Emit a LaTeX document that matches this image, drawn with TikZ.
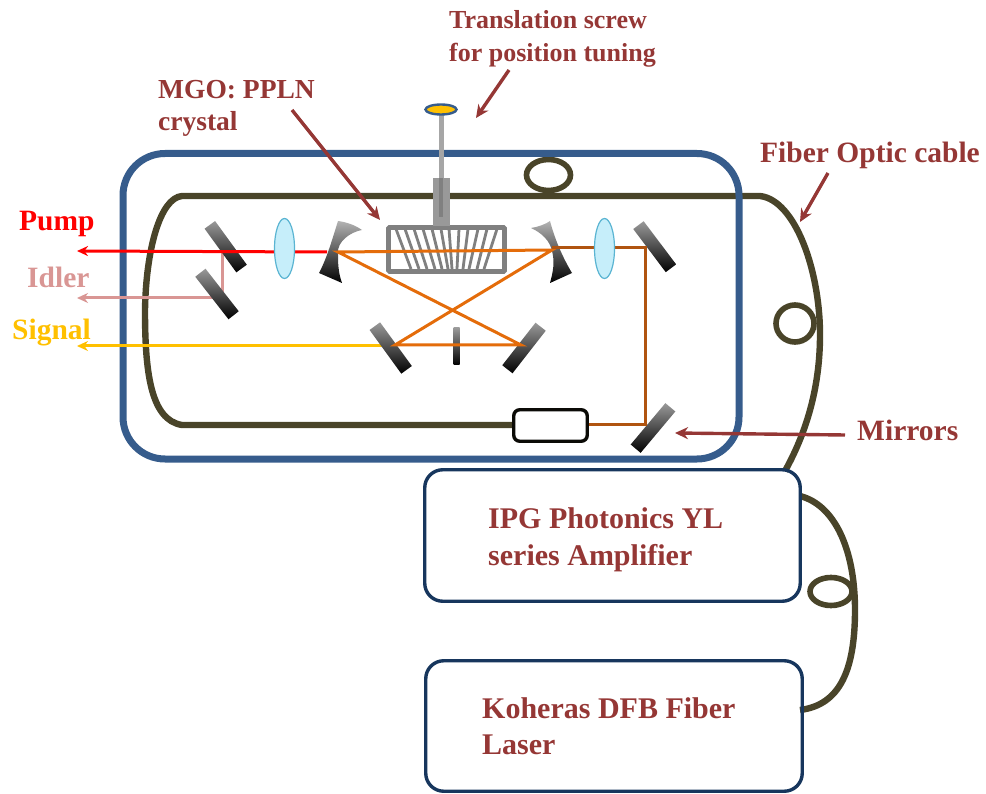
\documentclass[tikz,border=0pt]{standalone}
\usepackage{fontspec}
\setmainfont{Liberation Serif}
\usepackage{tikz}
\usetikzlibrary{arrows.meta, shapes.geometric}
\definecolor{labelred}{RGB}{149,55,53}
\definecolor{casingblue}{RGB}{54,92,140}
\definecolor{boxblue}{RGB}{23,54,93}
\definecolor{fiberolive}{RGB}{73,68,41}
\definecolor{beamorange}{RGB}{228,108,10}
\definecolor{beambrown}{RGB}{176,84,16}
\definecolor{idlerpink}{RGB}{217,150,148}
\definecolor{signalgold}{RGB}{255,192,0}
\definecolor{lensblue}{RGB}{198,238,250}
\definecolor{lensedge}{RGB}{90,180,210}
\newcommand{\lblfont}[2]{\bfseries\fontsize{#1}{#2}\selectfont}
\tikzset{
    fiber/.style={draw=fiberolive, line width=6.4pt},
    fiberloop/.style={draw=fiberolive, line width=5.6pt},
    lbl/.style={text=labelred, anchor=base west, inner sep=0pt, align=left},
    beamlbl/.style={anchor=base west, inner sep=0pt, font=\lblfont{29.5pt}{32pt}},
    callout/.style={draw=labelred, line width=3.4pt, -{Stealth[length=13pt,width=12pt]}},
    unitbox/.style={draw=boxblue, line width=3.4pt, rounded corners=18pt},
    beam/.style={line width=3pt},
    beamtip/.style={-{Stealth[length=11pt,width=10pt]}},
    mirror/.style={rectangle, minimum width=13pt, minimum height=54pt, inner sep=0pt, top color=black!40, bottom color=black},
    lens/.style={ellipse, draw=lensedge, fill=lensblue, line width=1.2pt, minimum width=20pt, minimum height=60pt, inner sep=0pt}
}
\begin{document}
\begin{tikzpicture}[x=1pt, y=-1pt]
    \useasboundingbox (0,0) rectangle (986,794);

    % Fiber loop through the casing
    \draw[fiber] (512,425) -- (182,425) .. controls (150,420) and (145,370) .. (145,310)
        .. controls (146,250) and (160,198) .. (182,196) -- (760,196)
        .. controls (795,200) and (820,270) .. (820,335) .. controls (820,390) and (805,435) .. (785,471);
    \draw[fiberloop] (548.5,175) circle[x radius=22pt, y radius=15.5pt];
    \draw[fiberloop] (795,323.5) circle[x radius=19pt, y radius=18.5pt];

    % Amplifier to laser fiber
    \draw[fiber] (800,496) .. controls (835,505) and (855,550) .. (855,610)
        .. controls (855,670) and (840,705) .. (800,710);
    \draw[fiberloop] (831,591.5) circle[x radius=21pt, y radius=14pt];

    % Casing
    \draw[draw=casingblue, line width=7pt, rounded corners=42pt] (123,153.5) rectangle (739,459);

    % Units
    \node[unitbox, minimum width=375.5pt, minimum height=131.5pt] (amp) at (612.5,535.5) {};
    \node[unitbox, minimum width=376.5pt, minimum height=130.5pt] (laser) at (614,726) {};

    % Crystal
    \draw[draw=black!50, line width=4.6pt, rounded corners=1pt] (388.5,227.5) rectangle (504.5,271.5);
    \foreach \a/\b in {396/411,405/419,414/427,423/435,432/442,441/448,449/452,459/457,468/463,478/469,487/477,497/484} {
        \draw[draw=black!50, line width=2.8pt] (\a,229) -- (\b,269);
    }

    % Translation screw
    \draw[draw=black!35, line width=5pt] (441,112) -- (441,178);
    \fill[black!40] (433,178) rectangle (450,226);
    \draw[draw=black!50, line width=4pt] (441,178) -- (441,217);
    \node[ellipse, draw=casingblue, fill=signalgold, line width=2.4pt, minimum width=31pt, minimum height=10pt, inner sep=0pt] (knob) at (441,109.5) {};

    % Fiber coupler
    \node[draw=black!85!fiberolive, fill=white, line width=3.4pt, rounded corners=6pt, minimum width=73.5pt, minimum height=31.5pt, inner sep=0pt] (coupler) at (550.5,425.5) {};

    % Beams behind the mirrors
    \draw[beam, draw=idlerpink, beamtip] (222,252) -- (222,298) -- (77,298);
    \draw[beam, draw=signalgold, beamtip] (384,346) -- (77,346);

    % Mirrors
    \node[mirror, rotate=36] (m1) at (225.7,246.7) {};
    \node[mirror, rotate=38] (m2) at (217,294) {};
    \node[mirror, rotate=36] (m3) at (390.7,348) {};
    \node[mirror, rotate=-38] (m4) at (524,348) {};
    \node[mirror, rotate=37] (m5) at (654.7,246.7) {};
    \node[mirror, rotate=-40] (m6) at (653,428) {};
    \node[rectangle, minimum width=6pt, minimum height=37pt, inner sep=0pt, top color=black!40, bottom color=black] (slit) at (456.5,346.5) {};

    % Curved mirrors
    \shade[top color=black!30, bottom color=black] (338,221) .. controls (346,222) and (355,225) .. (362,230)
        .. controls (350,232) and (337,242) .. (338,253) .. controls (338,262) and (338,272) .. (342,283)
        -- (319,273) .. controls (327,258) and (332,240) .. (338,221) -- cycle;
    \shade[top color=black!30, bottom color=black] (531,228) .. controls (538,227) and (546,224) .. (550,221)
        .. controls (555,240) and (563,258) .. (572,273) -- (550,283) .. controls (553,272) and (555,262) .. (552,251)
        .. controls (550,241) and (542,233) .. (531,228) -- cycle;

    % Beams in front of the mirrors
    \draw[beam, draw=red, beamtip] (327,252) -- (77,251);
    \draw[beam, draw=beamorange] (338,252) -- (552,250) -- (395,345) -- (521,345) -- cycle;
    \draw[beam, draw=beambrown] (552,248) -- (645,248) -- (645,425) -- (589,425);

    % Lenses
    \node[lens] (l1) at (284.5,248.5) {};
    \node[lens] (l2) at (604.5,248.5) {};

    % Labels
    \node[lbl, font=\lblfont{26pt}{33pt}] (screwtext) at (449,62) {Translation screw\\for position tuning};
    \node[lbl, font=\lblfont{27.5pt}{32pt}] (crystaltext) at (158,131) {MGO: PPLN\\crystal};
    \node[lbl, font=\lblfont{29.5pt}{32pt}] (cabletext) at (760,163) {Fiber Optic cable};
    \node[lbl, font=\lblfont{29.5pt}{32pt}] (mirrortext) at (857,440) {Mirrors};
    \node[lbl, font=\lblfont{30pt}{37pt}] (amptext) at (488,565) {IPG Photonics YL\\series Amplifier};
    \node[lbl, font=\lblfont{30pt}{36pt}] (lasertext) at (482,754) {Koheras DFB Fiber\\Laser};
    \node[beamlbl, text=red] (pumptext) at (19,231) {Pump};
    \node[beamlbl, text=idlerpink] (idlertext) at (27,288) {Idler};
    \node[beamlbl, text=signalgold] (signaltext) at (12,340) {Signal};

    % Callouts
    \coordinate (screwtip) at (476,118);
    \coordinate (screwtail) at (509,70);
    \coordinate (crystaltip) at (380,220);
    \coordinate (crystaltail) at (292,110);
    \coordinate (cabletip) at (800,222);
    \coordinate (cabletail) at (828,173);
    \coordinate (mirrortip) at (675,433);
    \coordinate (mirrortail) at (845,435);
    \draw[callout] (screwtail) -- (screwtip);
    \draw[callout] (crystaltail) -- (crystaltip);
    \draw[callout] (cabletail) -- (cabletip);
    \draw[callout] (mirrortail) -- (mirrortip);
\end{tikzpicture}
\end{document}
